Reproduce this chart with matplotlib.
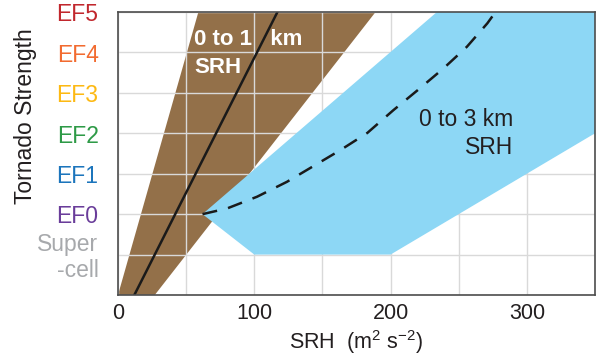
import matplotlib
matplotlib.use("Agg")
import matplotlib.pyplot as plt
from matplotlib.transforms import offset_copy

plt.rcParams['font.family'] = ['Liberation Sans', 'DejaVu Sans']
plt.rcParams['mathtext.fontset'] = 'custom'
plt.rcParams['mathtext.rm'] = 'Liberation Sans'
plt.rcParams['mathtext.it'] = 'Liberation Sans'

# strength levels (0 = no supercell, 1 = supercell, 2..7 = EF0..EF5)
level_labels = ["Super\n-cell", "EF0", "EF1", "EF2", "EF3", "EF4", "EF5"]
level_values = [1, 2, 3, 4, 5, 6, 7]
level_colors = ["#a7a9ac", "#6a3d9a", "#1c75bc", "#2e9a47", "#fdb913", "#f26b30", "#c1272d"]

x_ticks = [0, 100, 200, 300]

# 0-1 km SRH band and best fit line
srh1_band_x = [0, 59, 189, 27]
srh1_band_y = [0, 7, 7, 0]
srh1_line_x = [12, 117]
srh1_line_y = [0, 7]

# 0-3 km SRH band and curve
srh3_band_x = [62, 234, 350, 350, 200, 100]
srh3_band_y = [2, 7, 7, 4, 1, 1]
srh3_line_x = [62, 80, 102, 124, 144, 163, 183, 202, 220, 239, 256, 271, 277]
srh3_line_y = [2, 2.14, 2.43, 2.8, 3.2, 3.58, 4.01, 4.57, 5.07, 5.61, 6.14, 6.72, 7]

fig = plt.figure(figsize=(5.98, 3.58), dpi=100)
ax = fig.add_axes([0.1973, 0.176, 0.7977, 0.7905])

ax.fill(srh1_band_x, srh1_band_y, color="#937049", lw=0, zorder=2)
ax.fill(srh3_band_x, srh3_band_y, color="#8dd7f5", lw=0, zorder=3)
ax.plot(srh1_line_x, srh1_line_y, color="#1a1a1a", lw=1.8, zorder=5)
ax.plot(srh3_line_x, srh3_line_y, color="#1a1a1a", lw=1.8, dashes=(6, 4.5), zorder=5)

ax.set_xlim(0, 350)
ax.set_ylim(0, 7)
ax.set_xticks(range(0, 351, 50))
ax.set_xticklabels([str(v) if v in x_ticks else "" for v in range(0, 351, 50)])
ax.set_yticks(range(0, 8))
ax.set_yticklabels([""] * 8)
ax.grid(True, color="#d9d9d9", lw=1.0, zorder=4)
ax.set_axisbelow(False)
ax.tick_params(length=0, labelsize=15.5, colors="#231f20", pad=6)
for s in ax.spines.values():
    s.set_color("#4d4d4d")
    s.set_linewidth(1.2)
    s.set_zorder(6)

lab_trans = offset_copy(ax.get_yaxis_transform(), fig=fig, x=-14, y=-2, units="points")
for v, lab, c in zip(level_values, level_labels, level_colors):
    ax.text(0, v, lab, transform=lab_trans, ha="right", va="center", color=c,
            fontsize=16.5, linespacing=1.2)

ax.text(56, 6.33, "0 to 1   km", color="white", fontsize=16, fontweight="bold",
        va="center", ha="left", zorder=4.5)
ax.text(56, 5.62, "SRH", color="white", fontsize=16, fontweight="bold",
        va="center", ha="left", zorder=4.5)
ax.text(290, 4.33, "0 to 3 km", color="#231f20", fontsize=16.5, va="center", ha="right", zorder=6)
ax.text(290, 3.64, "SRH", color="#231f20", fontsize=16.5, va="center", ha="right", zorder=6)

ax.set_xlabel("SRH  (m$^2$ s$^{\u2212 2}$)", fontsize=15.5, color="#231f20", labelpad=3)
fig.text(0.042, 0.675, "Tornado Strength", rotation=90, fontsize=16.5, color="#231f20",
         ha="center", va="center")

fig.savefig("out.png", dpi=100)
